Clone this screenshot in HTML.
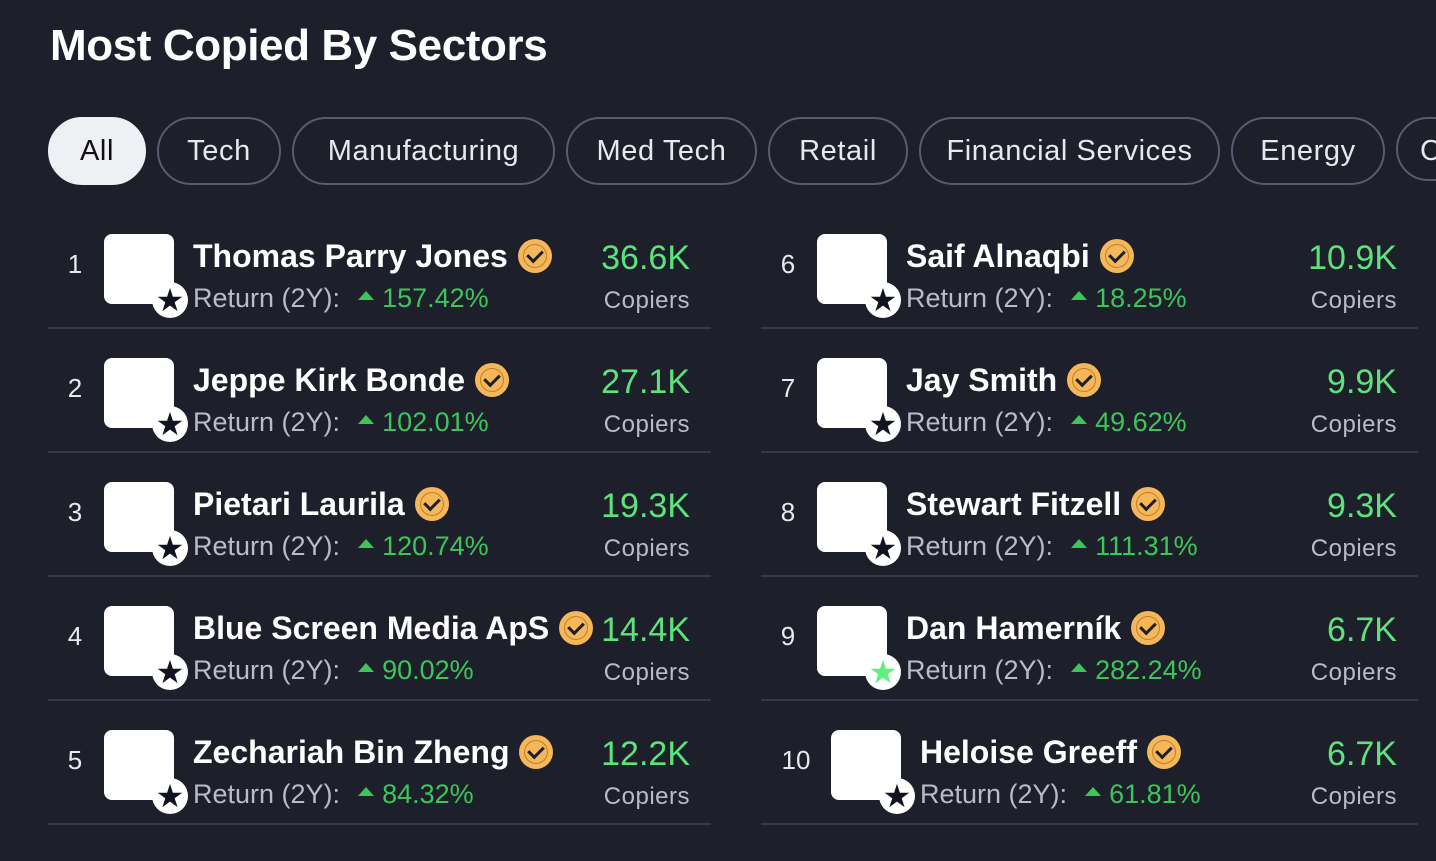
<!DOCTYPE html>
<html><head><meta charset="utf-8"><style>
body{margin:0;width:1436px;height:861px;background:#1d1f2b;overflow:hidden;font-family:"Liberation Sans","DejaVu Sans",sans-serif;position:relative}
.t{position:absolute;left:50px;top:18px;color:#fff;font-weight:bold;font-size:44px;line-height:56px;letter-spacing:-0.4px}
.p{position:absolute;top:117px;height:64px;border:2px solid #575c70;border-radius:34px;color:#e6e8ee;font-size:29px;letter-spacing:0.6px;line-height:64px;text-align:center;box-sizing:content-box;white-space:nowrap}
.r{position:absolute;width:663px;height:108px}
.n{position:absolute;left:0;width:54px;top:24px;line-height:36px;text-align:center;color:#e8e9ee;font-size:26px}
.a{position:absolute;left:56px;top:12px;width:70px;height:70px;border-radius:8px;background:#fff}
.b{position:absolute;left:104px;top:60px;width:36px;height:36px;border-radius:50%;background:#fff;color:#111420;font-size:32px;line-height:36px;text-align:center}
.nm{position:absolute;left:145px;top:14px;line-height:40px;color:#fff;font-weight:bold;font-size:32px;white-space:nowrap}
.v{display:inline-block;width:30px;height:30px;border-radius:50%;background:#f5b75a;vertical-align:-4px;margin-left:12px;position:relative;box-shadow:0 0 0 2px #f5b75a}
.v:after{content:"";position:absolute;left:10px;top:6px;width:7px;height:12px;border:solid #1d1f2b;border-width:0 3px 3px 0;transform:rotate(45deg)}
.v:before{content:"";position:absolute;left:3px;top:3px;width:22px;height:22px;border-radius:50%;border:1px solid #b9822c}
.rt{position:absolute;left:145px;top:58px;line-height:36px;color:#b9bcc7;font-size:27px;white-space:nowrap}
.g{color:#3cc65a}
.tri{display:inline-block;width:0;height:0;border-left:8px solid transparent;border-right:8px solid transparent;border-bottom:9px solid #3cc65a;vertical-align:7px;margin:0 8px 0 18px}
.c{position:absolute;right:21px;top:16px;line-height:40px;color:#5ee37c;font-size:34px;text-align:right}
.cp{position:absolute;right:21px;top:62px;line-height:34px;color:#b9bcc7;font-size:24px;letter-spacing:0.5px;text-align:right}
.s{position:absolute;left:0;right:0;top:105px;height:2px;background:#353a4a}
</style></head><body>
<div class="t">Most Copied By Sectors</div>
<div class="p" style="left:48px;width:94px;background:#eef0f4;border-color:#eef0f4;color:#111">All</div>
<div class="p" style="left:157px;width:120px">Tech</div>
<div class="p" style="left:292px;width:259px">Manufacturing</div>
<div class="p" style="left:566px;width:187px">Med Tech</div>
<div class="p" style="left:768px;width:136px">Retail</div>
<div class="p" style="left:919px;width:297px">Financial Services</div>
<div class="p" style="left:1231px;width:150px">Energy</div>
<div class="p" style="left:1396px;text-align:left;padding-left:22px;box-sizing:border-box;width:120px">C</div>

<div class="r" style="left:48px;top:222px"><div class="n">1</div><div class="a"></div><div class="b">★</div><div class="nm">Thomas Parry Jones<span class="v"></span></div><div class="rt">Return (2Y):<span class="tri"></span><span class="g">157.42%</span></div><div class="c">36.6K</div><div class="cp">Copiers</div><div class="s"></div></div>
<div class="r" style="left:48px;top:346px"><div class="n">2</div><div class="a"></div><div class="b">★</div><div class="nm">Jeppe Kirk Bonde<span class="v"></span></div><div class="rt">Return (2Y):<span class="tri"></span><span class="g">102.01%</span></div><div class="c">27.1K</div><div class="cp">Copiers</div><div class="s"></div></div>
<div class="r" style="left:48px;top:470px"><div class="n">3</div><div class="a"></div><div class="b">★</div><div class="nm">Pietari Laurila<span class="v"></span></div><div class="rt">Return (2Y):<span class="tri"></span><span class="g">120.74%</span></div><div class="c">19.3K</div><div class="cp">Copiers</div><div class="s"></div></div>
<div class="r" style="left:48px;top:594px"><div class="n">4</div><div class="a"></div><div class="b">★</div><div class="nm">Blue Screen Media ApS<span class="v"></span></div><div class="rt">Return (2Y):<span class="tri"></span><span class="g">90.02%</span></div><div class="c">14.4K</div><div class="cp">Copiers</div><div class="s"></div></div>
<div class="r" style="left:48px;top:718px"><div class="n">5</div><div class="a"></div><div class="b">★</div><div class="nm">Zechariah Bin Zheng<span class="v"></span></div><div class="rt">Return (2Y):<span class="tri"></span><span class="g">84.32%</span></div><div class="c">12.2K</div><div class="cp">Copiers</div><div class="s"></div></div>

<div class="r" style="left:761px;top:222px;width:657px"><div class="n">6</div><div class="a"></div><div class="b">★</div><div class="nm">Saif Alnaqbi<span class="v"></span></div><div class="rt">Return (2Y):<span class="tri"></span><span class="g">18.25%</span></div><div class="c">10.9K</div><div class="cp">Copiers</div><div class="s"></div></div>
<div class="r" style="left:761px;top:346px;width:657px"><div class="n">7</div><div class="a"></div><div class="b">★</div><div class="nm">Jay Smith<span class="v"></span></div><div class="rt">Return (2Y):<span class="tri"></span><span class="g">49.62%</span></div><div class="c">9.9K</div><div class="cp">Copiers</div><div class="s"></div></div>
<div class="r" style="left:761px;top:470px;width:657px"><div class="n">8</div><div class="a"></div><div class="b">★</div><div class="nm">Stewart Fitzell<span class="v"></span></div><div class="rt">Return (2Y):<span class="tri"></span><span class="g">111.31%</span></div><div class="c">9.3K</div><div class="cp">Copiers</div><div class="s"></div></div>
<div class="r" style="left:761px;top:594px;width:657px"><div class="n">9</div><div class="a"></div><div class="b" style="color:#5ef07e">★</div><div class="nm">Dan Hamerník<span class="v"></span></div><div class="rt">Return (2Y):<span class="tri"></span><span class="g">282.24%</span></div><div class="c">6.7K</div><div class="cp">Copiers</div><div class="s"></div></div>
<div class="r" style="left:761px;top:718px;width:657px"><div class="n" style="width:70px">10</div><div class="a" style="left:70px"></div><div class="b" style="left:118px">★</div><div class="nm" style="left:159px">Heloise Greeff<span class="v"></span></div><div class="rt" style="left:159px">Return (2Y):<span class="tri"></span><span class="g">61.81%</span></div><div class="c">6.7K</div><div class="cp">Copiers</div><div class="s"></div></div>
</body></html>
